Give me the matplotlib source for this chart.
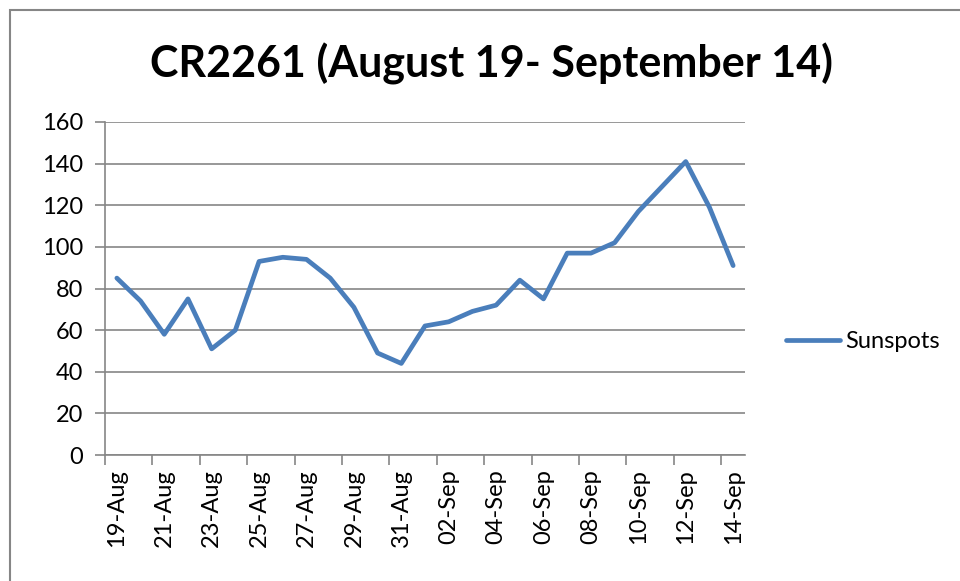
import matplotlib.pyplot as plt
from matplotlib.patches import Rectangle
from matplotlib.ticker import FixedLocator, NullFormatter

plt.rcParams['font.family'] = ['Lato', 'DejaVu Sans']

days = ["19-Aug", "20-Aug", "21-Aug", "22-Aug", "23-Aug", "24-Aug", "25-Aug",
        "26-Aug", "27-Aug", "28-Aug", "29-Aug", "30-Aug", "31-Aug", "01-Sep",
        "02-Sep", "03-Sep", "04-Sep", "05-Sep", "06-Sep", "07-Sep", "08-Sep",
        "09-Sep", "10-Sep", "11-Sep", "12-Sep", "13-Sep", "14-Sep"]
sunspots = [85, 74, 58, 75, 51, 60, 93, 95, 94, 85, 71, 49, 44, 62,
            64, 69, 72, 84, 75, 97, 97, 102, 117, 129, 141, 119, 91]
y_ticks = [0, 20, 40, 60, 80, 100, 120, 140, 160]

grey = "#868686"
blue = "#4a7ebb"

fig = plt.figure(figsize=(9.6, 5.81), dpi=100)
ax = fig.add_axes([105 / 960, 1 - 455 / 581, 640 / 960, 333 / 581])

x = list(range(len(days)))
ax.plot(x, sunspots, color=blue, lw=3.4, solid_joinstyle="round",
        solid_capstyle="round", label="Sunspots", clip_on=False)

ax.set_xlim(-0.5, len(days) - 0.5)
ax.set_ylim(0, 160)
ax.set_yticks(y_ticks)
ax.yaxis.grid(True, color=grey, lw=1.2)
ax.set_axisbelow(True)

# boundaries between categories carry the tick marks, centres carry labels
ax.xaxis.set_major_locator(FixedLocator([i - 0.5 for i in range(0, len(days), 2)]))
ax.xaxis.set_major_formatter(NullFormatter())
ax.xaxis.set_minor_locator(FixedLocator(x[::2]))
ax.set_xticklabels(days[::2], minor=True, rotation=90)
ax.tick_params(axis="x", which="major", length=7, width=1.2, color=grey)
ax.tick_params(axis="x", which="minor", length=0, pad=10, labelsize=17)
ax.tick_params(axis="y", length=7, width=1.2, color=grey, labelsize=17, pad=9)

for side in ["top", "right"]:
    ax.spines[side].set_visible(False)
for side in ["left", "bottom"]:
    ax.spines[side].set_color(grey)
    ax.spines[side].set_linewidth(1.2)

leg = ax.legend(loc="center left", bbox_to_anchor=(1.031, 0.34), frameon=False,
                fontsize=17, handlelength=2.3, handletextpad=0.2)

fig.text(491 / 960, 1 - 64 / 581, "CR2261 (August 19- September 14)", ha="center",
         va="center", fontsize=31, fontweight="bold")

fig.patches.append(Rectangle((10 / 960, -0.1), 1.2, 1.1 - 10 / 581,
                             transform=fig.transFigure, fill=False,
                             edgecolor=grey, lw=1.5))

fig.savefig("out.png", dpi=100, facecolor="white")
